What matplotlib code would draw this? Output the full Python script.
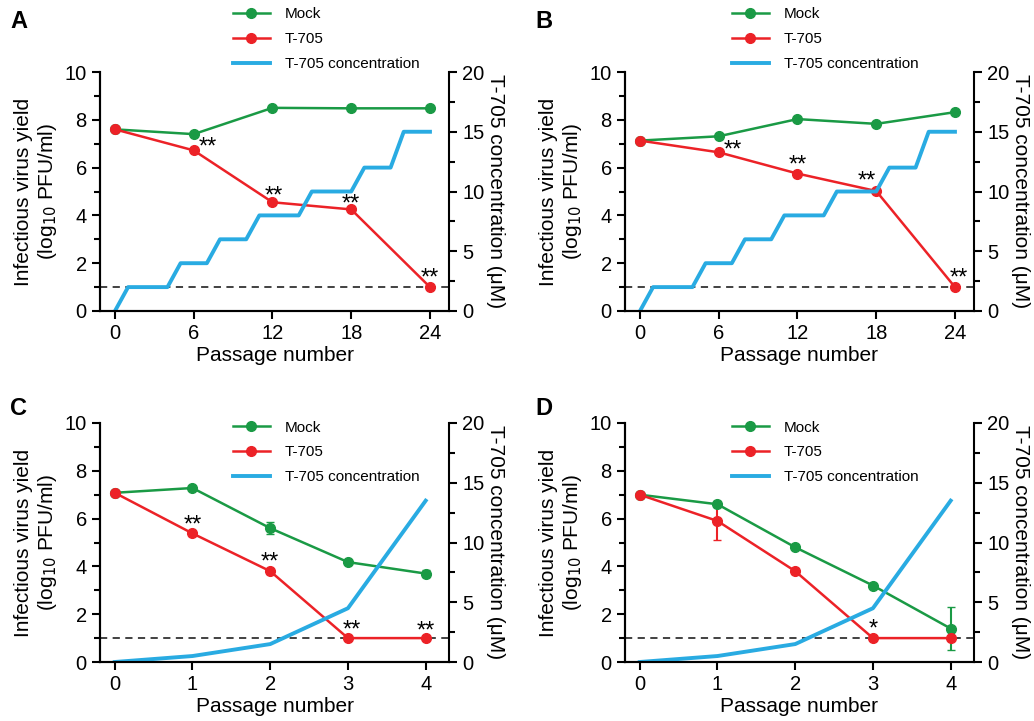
import matplotlib

matplotlib.use("Agg")
import matplotlib.pyplot as plt
from matplotlib.lines import Line2D
from matplotlib.ticker import MultipleLocator

plt.rcParams["font.family"] = ["Liberation Sans", "DejaVu Sans"]

GREEN = "#1a9a45"
RED = "#ec2227"
BLUE = "#29abe2"

# Panels A/B: passages 0..24, stepwise concentration
PASSAGE_AB = [0, 6, 12, 18, 24]
CONC_X_AB = [0, 1, 4, 5, 7, 8, 10, 11, 14, 15, 18, 19, 21, 22, 24]
CONC_Y_AB = [0, 2, 2, 4, 4, 6, 6, 8, 8, 10, 10, 12, 12, 15, 15]

MOCK_A = [7.6, 7.4, 8.5, 8.48, 8.48]
T705_A = [7.6, 6.72, 4.55, 4.25, 1.0]
STARS_A = [(7.1, 7.05, "**"), (12.1, 5.0, "**"), (18.0, 4.65, "**"), (24.0, 1.55, "**")]

MOCK_B = [7.13, 7.31, 8.03, 7.83, 8.32]
T705_B = [7.13, 6.64, 5.75, 5.02, 1.0]
STARS_B = [(7.1, 6.9, "**"), (12.0, 6.3, "**"), (17.3, 5.6, "**"), (24.3, 1.55, "**")]

# Panels C/D: passages 0..4
PASSAGE_CD = [0, 1, 2, 3, 4]
CONC_CD = [0, 0.5, 1.5, 4.5, 13.5]

MOCK_C = [7.08, 7.28, 5.6, 4.18, 3.7]
MOCK_C_ERR = [0.08, 0.05, 0.25, 0.1, 0.14]
T705_C = [7.08, 5.38, 3.8, 1.0, 1.0]
T705_C_ERR = [0.08, 0.1, 0.1, 0.0, 0.0]
STARS_C = [(1.0, 5.93, "**"), (2.0, 4.35, "**"), (3.05, 1.53, "**"), (4.0, 1.46, "**")]

MOCK_D = [7.0, 6.6, 4.8, 3.2, 1.4]
MOCK_D_ERR = [0.1, 0.12, 0.05, 0.05, 0.9]
T705_D = [7.0, 5.9, 3.8, 1.0, 1.0]
T705_D_ERR = [0.08, 0.8, 0.12, 0.0, 0.0]
STARS_D = [(3.0, 1.56, "*")]

LOD = 1.0


def draw_panel(rect, letter, x, mock, t705, conc_x, conc_y, stars, xlim,
               legend_anchor, mock_err=None, t705_err=None):
    ax = fig.add_axes(rect)
    ax2 = ax.twinx()

    ax.axhline(LOD, color="#333333", lw=1.3, ls=(0, (4, 3)), zorder=1)
    ax.errorbar(x, mock, yerr=mock_err, color=GREEN, marker="o", ms=7,
                lw=1.8, capsize=3, elinewidth=1.5, zorder=3)
    ax.errorbar(x, t705, yerr=t705_err, color=RED, marker="o", ms=7,
                lw=1.8, capsize=3, elinewidth=1.5, zorder=3)
    ax2.plot(conc_x, conc_y, color=BLUE, lw=2.8)

    # asterisk glyph sits high in its box, so nudge the text down a bit
    for sx, sy, s in stars:
        ax.text(sx, sy - 0.2, s, ha="center", va="center", fontsize=17)

    ax.set_xlim(*xlim)
    ax.set_ylim(0, 10)
    ax2.set_ylim(0, 20)
    ax.set_xticks(x)
    ax.yaxis.set_major_locator(MultipleLocator(2))
    ax.yaxis.set_minor_locator(MultipleLocator(1))
    ax2.yaxis.set_major_locator(MultipleLocator(5))
    ax2.yaxis.set_minor_locator(MultipleLocator(2.5))

    for a in (ax, ax2):
        a.spines["top"].set_visible(False)
        for sp in a.spines.values():
            sp.set_linewidth(1.5)
        a.tick_params(which="major", length=6, width=1.5, labelsize=14.5)
        a.tick_params(which="minor", length=4, width=1.5)
    ax.spines["right"].set_visible(False)

    ax.set_xlabel("Passage number", fontsize=15, labelpad=2)
    ax.set_ylabel("Infectious virus yield\n(log$_{10}$ PFU/ml)", fontsize=15,
                  labelpad=4)
    ax2.set_ylabel("T-705 concentration (\u03bcM)", fontsize=15, rotation=270,
                   labelpad=15)

    handles = [
        Line2D([], [], color=GREEN, marker="o", ms=7, lw=1.8),
        Line2D([], [], color=RED, marker="o", ms=7, lw=1.8),
        Line2D([], [], color=BLUE, lw=2.8),
    ]
    labels = ["Mock", "T-705", "T-705 concentration"]
    ax2.legend(handles, labels, loc="upper left", bbox_to_anchor=legend_anchor,
               frameon=False, fontsize=11, handlelength=2.4, handletextpad=1.0,
               labelspacing=0.7, borderpad=0, borderaxespad=0)

    fig.text(rect[0] - 0.087, rect[1] + rect[3] + (0.07 if letter in "AB" else 0.02),
             letter, fontsize=17, fontweight="bold", va="center")
    return ax


fig = plt.figure(figsize=(10.34, 7.21), dpi=100)

W = 349 / 1034
H = 239 / 721
LEFT_1 = 100 / 1034
LEFT_2 = 625 / 1034
BOT_TOP = 1 - 311 / 721
BOT_LOW = 1 - 662 / 721

draw_panel([LEFT_1, BOT_TOP, W, H], "A", PASSAGE_AB, MOCK_A, T705_A,
           CONC_X_AB, CONC_Y_AB, STARS_A, (-1.14, 25.45), (0.381, 1.27))
draw_panel([LEFT_2, BOT_TOP, W, H], "B", PASSAGE_AB, MOCK_B, T705_B,
           CONC_X_AB, CONC_Y_AB, STARS_B, (-1.14, 25.45), (0.307, 1.27))
draw_panel([LEFT_1, BOT_LOW, W, H], "C", PASSAGE_CD, MOCK_C, T705_C,
           PASSAGE_CD, CONC_CD, STARS_C, (-0.19, 4.3), (0.381, 1.01),
           MOCK_C_ERR, T705_C_ERR)
draw_panel([LEFT_2, BOT_LOW, W, H], "D", PASSAGE_CD, MOCK_D, T705_D,
           PASSAGE_CD, CONC_CD, STARS_D, (-0.19, 4.3), (0.307, 1.01),
           MOCK_D_ERR, T705_D_ERR)

fig.savefig("out.png", dpi=100)
